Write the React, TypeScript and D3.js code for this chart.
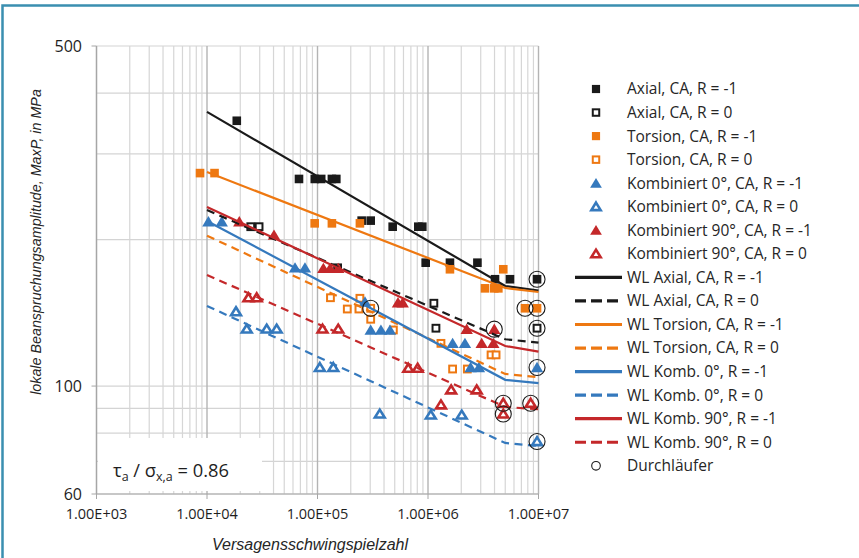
import React from "react";
import * as d3 from "d3";

const W = 859;
const H = 558;

// ---- axes ----
const xDomain: [number, number] = [1e3, 1e7];
const yDomain: [number, number] = [60, 500];
const xTickValues = [1e3, 1e4, 1e5, 1e6, 1e7];
const xTickLabels = ["1.00E+03", "1.00E+04", "1.00E+05", "1.00E+06", "1.00E+07"];
const yTickValues = [60, 100, 500];
const yTickLabels = ["60", "100", "500"];
const yGridValues = [60, 70, 80, 90, 100, 200, 300, 400, 500];

// ---- test data [N, stress amplitude] ----
const axialCAm1: [number, number][] = [
  [1.86e4, 351], [6.8e4, 266.5], [9.45e4, 266.5], [1.08e5, 266.5], [1.35e5, 266.5], [1.48e5, 266.5],
  [2.51e5, 218.8], [3.03e5, 218.8], [4.79e5, 212.6], [8.17e5, 212.6], [8.88e5, 212.6],
  [9.53e5, 179.3], [1.58e6, 179.3], [2.8e6, 179.3], [4.04e6, 165.8], [5.52e6, 165.8], [9.7e6, 165.8],
];
const axialCA0: [number, number][] = [
  [2.49e4, 212.6], [2.96e4, 212.6], [1.52e5, 175], [1.13e6, 148], [1.18e6, 131.5], [9.7e6, 131.5],
];
const torsionCAm1: [number, number][] = [
  [8.65e3, 274], [1.17e4, 274], [9.43e4, 216], [1.35e5, 216], [2.42e5, 216],
  [1.58e6, 173.8], [4.8e6, 173.8], [3.28e6, 158.8], [3.98e6, 158.8], [4.33e6, 158.8],
  [7.55e6, 144.5], [9.7e6, 144.5],
];
const torsionCA0: [number, number][] = [
  [1.31e5, 151.9], [1.86e5, 144], [2.42e5, 151.5], [2.37e5, 144], [3.03e5, 137.2], [3.03e5, 144.5],
  [4.86e5, 130.4], [1.31e6, 122.4], [1.67e6, 108.4], [2.27e6, 108.4], [3.72e6, 115.9], [4.13e6, 115.9],
];
const komb0CAm1: [number, number][] = [
  [1.03e4, 217.7], [1.36e4, 217.7], [6.26e4, 175], [7.7e4, 175], [2.69e5, 148.9],
  [3.03e5, 130.4], [3.75e5, 130.4], [4.53e5, 130.4], [1.67e6, 122.4], [2.16e6, 122.4],
  [2.43e6, 109.2], [2.89e6, 109.2], [9.7e6, 109.2],
];
const komb0CA0: [number, number][] = [
  [1.83e4, 142.2], [2.29e4, 131], [3.47e4, 131], [4.27e4, 131], [1.05e5, 109.2], [1.39e5, 109.2],
  [3.66e5, 87.6], [1.06e6, 87.2], [2.02e6, 87.2], [9.7e6, 76.9],
];
const komb90CAm1: [number, number][] = [
  [1.96e4, 217.7], [4.04e4, 204.4], [1.13e5, 174.6], [1.3e5, 174.6], [1.54e5, 174.6],
  [5.35e5, 148.4], [5.9e5, 148.4], [2.24e6, 130.9], [3.98e6, 130.9], [3.06e6, 122.4], [3.9e6, 122.4],
];
const komb90CA0: [number, number][] = [
  [2.37e4, 151.9], [2.82e4, 151.9], [1.11e5, 131], [1.54e5, 131], [6.63e5, 108.8], [8.07e5, 108.8],
  [1.62e6, 98.2], [2.76e6, 98.2], [1.31e6, 91.5], [4.8e6, 92.2], [4.8e6, 87.6], [8.5e6, 92.2],
];
const runouts: [number, number][] = [
  [9.7e6, 165.8], [7.55e6, 144.5], [9.7e6, 144.5], [9.7e6, 131.5], [3.98e6, 130.9], [9.7e6, 109.2],
  [4.8e6, 92.2], [4.8e6, 87.6], [8.5e6, 92.2], [9.7e6, 76.9], [3.03e5, 144.5],
];

// ---- Wöhler lines ----
const wlAxialM1: [number, number][] = [[1e4, 366], [5e6, 160.6], [1e7, 157.2]];
const wlAxial0: [number, number][] = [[1e4, 230], [5e6, 124.8], [1e7, 122.8]];
const wlTorsionM1: [number, number][] = [[1e4, 275.4], [5e6, 159.1], [1e7, 156.1]];
const wlTorsion0: [number, number][] = [[1e4, 203.7], [5e6, 105.9], [1e7, 104.3]];
const wlKomb0M1: [number, number][] = [[1e4, 218.4], [5e6, 103], [1e7, 101.4]];
const wlKomb00: [number, number][] = [[1e4, 146.1], [5e6, 76.4], [1e7, 75.3]];
const wlKomb90M1: [number, number][] = [[1e4, 233.5], [5e6, 120.9], [1e7, 117.7]];
const wlKomb900: [number, number][] = [[1e4, 169.2], [5e6, 90.6], [1e7, 89.6]];

const BLACK = "#1a1a1a";
const ORANGE = "#ee7811";
const BLUE = "#3579bd";
const RED = "#c4282a";

type Marker = "sqF" | "sqO" | "triF" | "triO";
const markerSeries: { name: string; data: [number, number][]; color: string; marker: Marker }[] = [
  { name: "Axial, CA, R = -1", data: axialCAm1, color: BLACK, marker: "sqF" },
  { name: "Axial, CA, R = 0", data: axialCA0, color: BLACK, marker: "sqO" },
  { name: "Torsion, CA, R = -1", data: torsionCAm1, color: ORANGE, marker: "sqF" },
  { name: "Torsion, CA, R = 0", data: torsionCA0, color: ORANGE, marker: "sqO" },
  { name: "Kombiniert 0°, CA, R = -1", data: komb0CAm1, color: BLUE, marker: "triF" },
  { name: "Kombiniert 0°, CA, R = 0", data: komb0CA0, color: BLUE, marker: "triO" },
  { name: "Kombiniert 90°, CA, R = -1", data: komb90CAm1, color: RED, marker: "triF" },
  { name: "Kombiniert 90°, CA, R = 0", data: komb90CA0, color: RED, marker: "triO" },
];
const lineSeries: { name: string; data: [number, number][]; color: string; dashed: boolean }[] = [
  { name: "WL Axial, CA, R = -1", data: wlAxialM1, color: BLACK, dashed: false },
  { name: "WL Axial, CA, R = 0", data: wlAxial0, color: BLACK, dashed: true },
  { name: "WL Torsion, CA, R = -1", data: wlTorsionM1, color: ORANGE, dashed: false },
  { name: "WL Torsion, CA, R = 0", data: wlTorsion0, color: ORANGE, dashed: true },
  { name: "WL Komb. 0°, R = -1", data: wlKomb0M1, color: BLUE, dashed: false },
  { name: "WL Komb. 0°, R = 0", data: wlKomb00, color: BLUE, dashed: true },
  { name: "WL Komb. 90°, R = -1", data: wlKomb90M1, color: RED, dashed: false },
  { name: "WL Komb. 90°, R = 0", data: wlKomb900, color: RED, dashed: true },
];

const PLOT = { left: 96.5, right: 538.5, top: 46, bottom: 494 };
const x = d3.scaleLog().domain(xDomain).range([PLOT.left, PLOT.right]);
const y = d3.scaleLog().domain(yDomain).range([PLOT.bottom, PLOT.top]);

const TXT = "'Segoe UI', 'Open Sans', 'Noto Sans', sans-serif";
const AX = "'Liberation Sans', Arial, sans-serif";

function MarkerShape({ m, color, cx, cy, s = 1 }: { m: Marker; color: string; cx: number; cy: number; s?: number }) {
  if (m === "sqF") return <rect x={cx - 4.3 * s} y={cy - 4.3 * s} width={8.6 * s} height={8.6 * s} fill={color} />;
  if (m === "sqO")
    return <rect x={cx - 3.4 * s} y={cy - 3.4 * s} width={6.8 * s} height={6.8 * s} fill="#fff" stroke={color} strokeWidth={2} />;
  const h = 5.6 * s;
  const w = 6.2 * s;
  const p = `M${cx},${cy - h} L${cx + w},${cy + h * 0.85} L${cx - w},${cy + h * 0.85} Z`;
  if (m === "triF") return <path d={p} fill={color} />;
  const h2 = 4.4 * s;
  const w2 = 4.9 * s;
  const p2 = `M${cx},${cy - h2} L${cx + w2},${cy + h2 * 0.8} L${cx - w2},${cy + h2 * 0.8} Z`;
  return <path d={p2} fill="#fff" stroke={color} strokeWidth={2.6} strokeLinejoin="miter" />;
}

export default function App() {
  const vGrid: { v: number; major: boolean }[] = [];
  for (let d = 1e3; d < 1e7; d *= 10) for (let k = 1; k <= 9; k++) vGrid.push({ v: k * d, major: k === 1 });
  vGrid.push({ v: 1e7, major: true });

  const line = d3
    .line<[number, number]>()
    .x((d) => x(d[0]))
    .y((d) => y(d[1]));

  const legendX = 596;
  const legendY0 = 89;
  const legendDy = 23.55;
  const LFS = 15.5;

  return (
    <svg width={W} height={H} style={{ position: "absolute", left: 0, top: 0, background: "#fff" }}>
      <rect x={0} y={0} width={W} height={H} fill="#fff" />
      <rect x={2.5} y={5.5} width={W + 20} height={H + 20} fill="none" stroke="#3a8fb0" strokeWidth={2.5} />

      {/* grid */}
      {yGridValues.map((v) => (
        <line key={"hy" + v} x1={PLOT.left} x2={PLOT.right} y1={y(v)} y2={y(v)} stroke="#d4d4d4" strokeWidth={1.2} />
      ))}
      {vGrid.map((g, i) => (
        <line
          key={"vx" + i}
          x1={x(g.v)}
          x2={x(g.v)}
          y1={PLOT.top}
          y2={PLOT.bottom}
          stroke={g.major ? "#b4b4b4" : "#d6d6d6"}
          strokeWidth={g.major ? 1.4 : 1.2}
        />
      ))}
      <line x1={PLOT.left} x2={PLOT.right} y1={PLOT.bottom} y2={PLOT.bottom} stroke="#a6a6a6" strokeWidth={1.2} />
      <line x1={PLOT.left} x2={PLOT.left} y1={PLOT.top} y2={PLOT.bottom} stroke="#a6a6a6" strokeWidth={1.2} />

      {/* ticks */}
      {xTickValues.map((v, i) => (
        <g key={"xt" + v}>
          <line x1={x(v)} x2={x(v)} y1={PLOT.bottom} y2={PLOT.bottom + 5} stroke="#a6a6a6" />
          <text x={x(v)} y={519} textAnchor="middle" fontFamily={TXT} fontSize={14.5} fill="#1e1e1e">
            {xTickLabels[i]}
          </text>
        </g>
      ))}
      {yTickValues.map((v, i) => (
        <g key={"yt" + v}>
          <line x1={PLOT.left - 5} x2={PLOT.left} y1={y(v)} y2={y(v)} stroke="#a6a6a6" />
          <text x={82} y={y(v)} dy="0.35em" textAnchor="end" fontFamily={TXT} fontSize={16} fill="#1e1e1e">
            {yTickLabels[i]}
          </text>
        </g>
      ))}

      {/* axis titles */}
      <text x={310} y={550} textAnchor="middle" fontFamily={AX} fontStyle="italic" fontSize={16} fill="#262626">
        Versagensschwingspielzahl
      </text>
      <text
        transform={`translate(41,242) rotate(-90)`}
        textAnchor="middle"
        fontFamily={AX}
        fontStyle="italic"
        fontSize={14.3}
        fill="#262626"
      >
        lokale Beanspruchungsamplitude, MaxP, in MPa
      </text>

      {/* markers */}
      {markerSeries.map((s) =>
        s.data.map((d, i) => <MarkerShape key={s.name + i} m={s.marker} color={s.color} cx={x(d[0])} cy={y(d[1])} />)
      )}

      {/* Wöhler lines */}
      {lineSeries.map((s) => (
        <path
          key={s.name}
          d={line(s.data) || ""}
          fill="none"
          stroke={s.color}
          strokeWidth={2.2}
          strokeDasharray={s.dashed ? "8,5.5" : undefined}
        />
      ))}

      {/* runouts */}
      {runouts.map((d, i) => (
        <circle key={"ro" + i} cx={x(d[0])} cy={y(d[1])} r={8} fill="none" stroke={BLACK} strokeWidth={1.1} />
      ))}

      {/* ratio box */}
      <rect x={98} y={438} width={164} height={53} fill="#fff" />
      <text x={113} y={477} fontFamily={TXT} fontSize={18.3} fill="#1e1e1e">
        τ<tspan fontSize={12.5} dy={4}>a</tspan>
        <tspan dy={-4}> / σ</tspan>
        <tspan fontSize={12.5} dy={4}>x,a</tspan>
        <tspan dy={-4}> = 0.86</tspan>
      </text>

      {/* legend */}
      {markerSeries.map((s, i) => {
        const ly = legendY0 + i * legendDy;
        return (
          <g key={"lg" + i}>
            <MarkerShape m={s.marker} color={s.color} cx={legendX} cy={ly} s={0.95} />
            <text x={627} y={ly} dy="0.35em" fontFamily={TXT} fontSize={LFS} fill="#262626">
              {s.name}
            </text>
          </g>
        );
      })}
      {lineSeries.map((s, j) => {
        const ly = legendY0 + (j + 8) * legendDy;
        return (
          <g key={"ll" + j}>
            <line
              x1={575}
              x2={622}
              y1={ly}
              y2={ly}
              stroke={s.color}
              strokeWidth={3.2}
              strokeDasharray={s.dashed ? "11,5" : undefined}
            />
            <text x={627} y={ly} dy="0.35em" fontFamily={TXT} fontSize={LFS} fill="#262626">
              {s.name}
            </text>
          </g>
        );
      })}
      {(() => {
        const ly = legendY0 + 16 * legendDy;
        return (
          <g>
            <circle cx={legendX} cy={ly} r={4.3} fill="none" stroke={BLACK} strokeWidth={1.1} />
            <text x={627} y={ly} dy="0.35em" fontFamily={TXT} fontSize={LFS} fill="#262626">
              Durchläufer
            </text>
          </g>
        );
      })()}
    </svg>
  );
}
